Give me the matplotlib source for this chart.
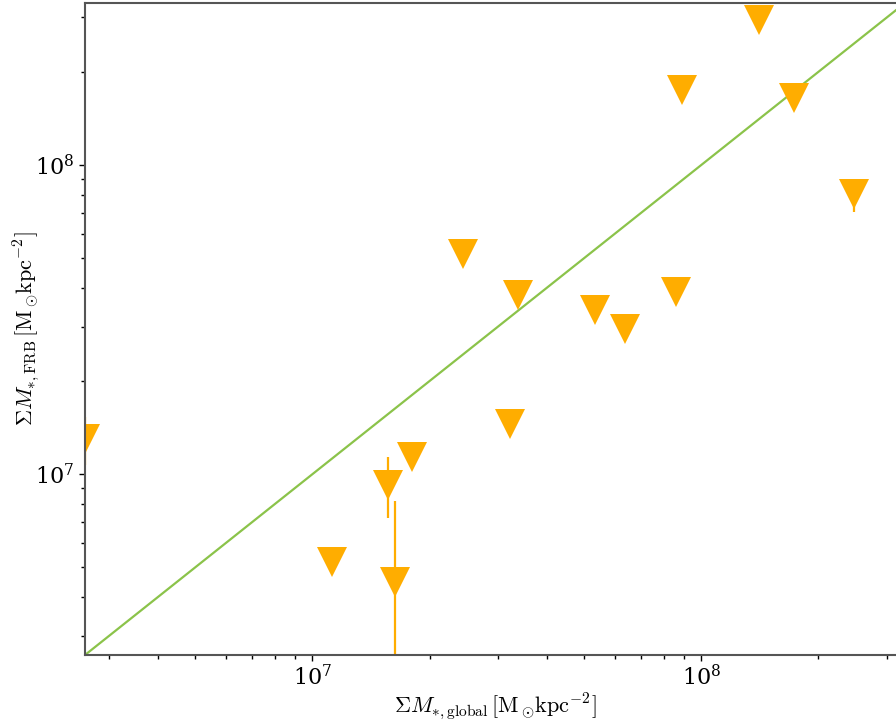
import numpy as np
import matplotlib
matplotlib.use('Agg')
import matplotlib.pyplot as plt

plt.rcParams.update({
    'mathtext.fontset': 'cm',
    'font.family': 'serif',
    'font.serif': ['DejaVu Serif'],
    'font.size': 16,
    'xtick.direction': 'out',
    'ytick.direction': 'out',
})

# surface densities (M_sun / kpc^2)
sigma_global = np.array([1.41e8, 8.91e7, 1.73e8, 2.47e8, 2.44e7, 3.37e7, 5.32e7,
                         6.35e7, 8.59e7, 3.22e7, 2.60e6, 1.80e7, 1.56e7, 1.12e7, 1.63e7])
sigma_frb = np.array([2.94e8, 1.75e8, 1.65e8, 8.06e7, 5.15e7, 3.79e7, 3.39e7,
                      2.94e7, 3.88e7, 1.45e7, 1.30e7, 1.14e7, 9.20e6, 5.19e6, 4.47e6])
err_lo = np.array([0, 0, 0, 1.0e7, 0, 0, 0, 0, 0, 0, 2.3e6, 0, 1.99e6, 0, 2.47e6])
err_hi = np.array([0, 0, 0, 3.0e6, 0, 0, 0, 0, 0, 0, 2.3e6, 0, 2.15e6, 0, 3.71e6])

lims = (2.6e6, 3.34e8)
orange = '#FFAD00'
green = '#8BC34A'

fig = plt.figure(figsize=(8.96, 7.26), dpi=100)
ax = fig.add_axes([85 / 896, 71 / 726, 820 / 896, 652 / 726])
ax.set_xscale('log')
ax.set_yscale('log')

# one-to-one line
ax.plot(lims, lims, color=green, lw=1.6, zorder=1)

ax.errorbar(sigma_global, sigma_frb, yerr=[err_lo, err_hi], fmt='v', color=orange,
            ms=22, mew=0, elinewidth=1.6, capsize=0, zorder=2)

ax.set_xlim(lims)
ax.set_ylim(lims)
ax.set_xlabel(r'$\Sigma M_{*,\mathrm{global}}\,[\mathrm{M}_\odot\!\mathrm{kpc}^{-2}]$', labelpad=1)
ax.set_ylabel(r'$\Sigma M_{*,\mathrm{FRB}}\,[\mathrm{M}_\odot\!\mathrm{kpc}^{-2}]$', labelpad=-5)

for s in ax.spines.values():
    s.set_color('#555555')
    s.set_linewidth(1.5)
ax.spines['right'].set_visible(False)
ax.tick_params(which='major', length=4, width=1, top=False, right=False)
ax.tick_params(which='minor', length=3, width=1, top=False, right=False)

fig.savefig('out.png', dpi=100)
